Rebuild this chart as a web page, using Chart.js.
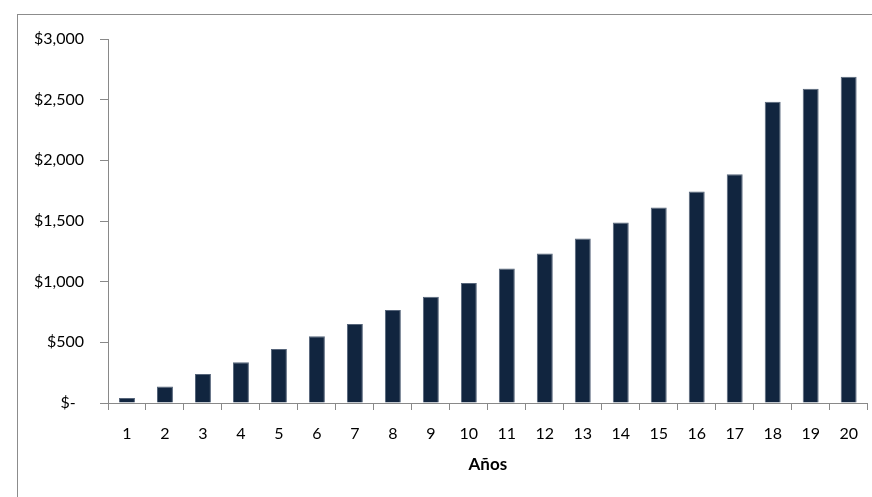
<!DOCTYPE html>
<html>
<head>
<meta charset="utf-8">
<script src="https://cdn.jsdelivr.net/npm/chart.js@4/dist/chart.umd.min.js"></script>
<style>
  html, body { margin: 0; padding: 0; background: #fff; overflow: hidden; }
  #wrap { position: relative; width: 872px; height: 497px; }
  #frame { position: absolute; left: 17px; top: 14px; width: 900px; height: 600px;
           border: 1px solid #8c8c8c; box-sizing: border-box; }
  canvas { position: absolute; left: 0; top: 0; }
</style>
</head>
<body>
<div id="wrap">
  <div id="frame"></div>
  <canvas id="c" width="872" height="497"></canvas>
</div>
<script>
// Years 1..20 and accumulated amount per year
const years = ['1','2','3','4','5','6','7','8','9','10','11','12','13','14','15','16','17','18','19','20'];
const amounts = [42, 135, 240, 335, 445, 550, 651, 767, 875, 990, 1109, 1233, 1355, 1488, 1612, 1744, 1885, 2483, 2591, 2688];
const yTickValues = [0, 500, 1000, 1500, 2000, 2500, 3000];
const yTickLabels = ['$-  ', '$500', '$1,000', '$1,500', '$2,000', '$2,500', '$3,000'];
const xTitle = 'Años';

const axisGray = '#898989';
const font = { family: 'Lato, Calibri, sans-serif', size: 16 };

new Chart(document.getElementById('c'), {
  type: 'bar',
  data: {
    labels: years,
    datasets: [{
      data: amounts,
      backgroundColor: '#11253f',
      borderColor: '#56657a',
      borderWidth: 1,
      categoryPercentage: 1,
      barPercentage: 0.42
    }]
  },
  options: {
    responsive: false,
    animation: false,
    events: [],
    layout: { padding: { left: 0, top: 39, right: 2, bottom: 0 } },
    plugins: { legend: { display: false }, tooltip: { enabled: false } },
    scales: {
      x: {
        grid: { display: true, drawOnChartArea: false, drawTicks: true, tickLength: 7, color: axisGray, offset: true },
        border: { display: true, color: axisGray, width: 1 },
        ticks: { color: '#000', font: font, padding: 14, maxRotation: 0 },
        title: { display: true, text: xTitle, color: '#000',
                 font: { family: font.family, size: 17, weight: 'bold' },
                 padding: { top: 4, bottom: 22 } },
        afterFit: s => { s.height = 94; }
      },
      y: {
        min: 0, max: 3000,
        grid: { display: true, drawOnChartArea: false, drawTicks: true, tickLength: 8, color: axisGray },
        border: { display: true, color: axisGray, width: 1 },
        afterBuildTicks: s => { s.ticks = yTickValues.map(v => ({ value: v })); },
        ticks: {
          color: '#000', font: font, padding: 16,
          callback: v => yTickLabels[yTickValues.indexOf(v)]
        },
        afterFit: s => { s.width = 108; }
      }
    }
  }
});
</script>
</body>
</html>
